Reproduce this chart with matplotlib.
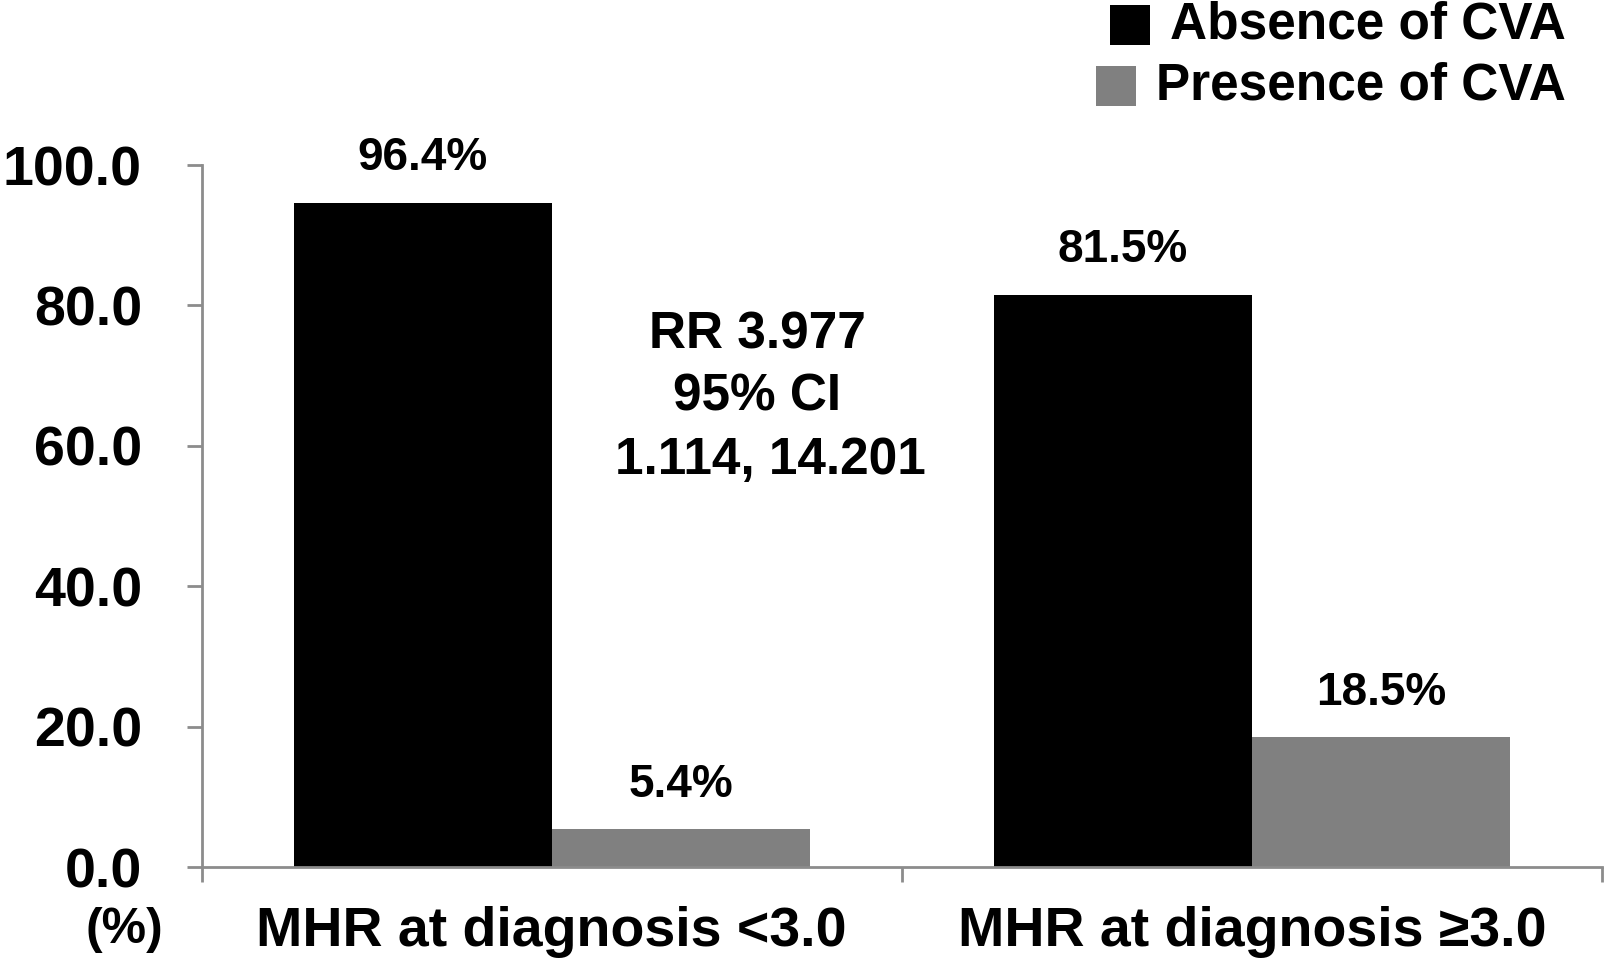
import matplotlib
matplotlib.use("Agg")
import matplotlib.pyplot as plt
from matplotlib.patches import Rectangle

plt.rcParams['font.family'] = ['Liberation Sans', 'DejaVu Sans']
plt.rcParams['font.weight'] = 'bold'

categories = ["MHR at diagnosis <3.0", "MHR at diagnosis \u22653.0"]
series_names = ["Absence of CVA", "Presence of CVA"]
absence = [94.6, 81.5]
presence = [5.4, 18.5]
absence_labels = ["96.4%", "81.5%"]
presence_labels = ["5.4%", "18.5%"]
yticks = [0, 20, 40, 60, 80, 100]
ytick_labels = ["0.0", "20.0", "40.0", "60.0", "80.0", "100.0"]
annotation_lines = ["RR 3.977", "95% CI", "1.114, 14.201"]

W, H = 1605, 969
fig = plt.figure(figsize=(W / 100, H / 100), dpi=100)
ax = fig.add_axes([201.6 / W, 1 - 867 / H, (1602 - 201.6) / W, (867 - 165) / H])

axis_color = "#8c8c8c"
bw = 0.3686
x = list(range(len(categories)))
b1 = ax.bar([i - bw / 2 for i in x], absence, width=bw, color="#000000", label=series_names[0])
b2 = ax.bar([i + bw / 2 for i in x], presence, width=bw, color="#808080", label=series_names[1])

for rect, lab in zip(b1, absence_labels):
    ax.annotate(lab, (rect.get_x() + rect.get_width() / 2, rect.get_height()),
                xytext=(0, 32), textcoords="offset points", ha="center", va="center",
                fontsize=33, fontweight="bold")
for rect, lab in zip(b2, presence_labels):
    ax.annotate(lab, (rect.get_x() + rect.get_width() / 2, rect.get_height()),
                xytext=(0, 32), textcoords="offset points", ha="center", va="center",
                fontsize=33, fontweight="bold")

ax.set_xlim(-0.5, 1.5)
ax.set_ylim(0, 100)
ax.set_yticks(yticks)
ax.set_yticklabels(ytick_labels, fontsize=40, fontweight="bold")
ax.set_xticks([-0.5, 0.5, 1.5])
ax.set_xticklabels([])
ax.set_xticks(x, minor=True)
ax.set_xticklabels(categories, minor=True, fontsize=40, fontweight="bold")
ax.tick_params(axis="x", which="major", length=11, width=2, color=axis_color, direction="out")
ax.tick_params(axis="x", which="minor", length=0, pad=28)
ax.tick_params(axis="y", length=11, width=2, color=axis_color, direction="out", pad=32)

for s in ["top", "right"]:
    ax.spines[s].set_visible(False)
for s in ["left", "bottom"]:
    ax.spines[s].set_color(axis_color)
    ax.spines[s].set_linewidth(2)

# RR annotation
for line, xc, yc in zip(annotation_lines, [757, 757, 770], [335, 397, 461]):
    fig.text(xc / W, 1 - yc / H, line, ha="center", va="center", fontsize=37, fontweight="bold")

fig.text(124 / W, 1 - 930 / H, "(%)", ha="center", va="center", fontsize=36, fontweight="bold")

# Legend (right-aligned entries)
fig.canvas.draw()
renderer = fig.canvas.get_renderer()
for name, col, yc in [(series_names[0], "#000000", 25), (series_names[1], "#808080", 86)]:
    t = fig.text(1566 / W, 1 - yc / H, name, ha="right", va="center", fontsize=37, fontweight="bold")
    bb = t.get_window_extent(renderer)
    left = bb.x0
    sq = 40
    fig.patches.append(Rectangle(((left - 20 - sq) / W, (H - yc - sq / 2) / H), sq / W, sq / H,
                                 transform=fig.transFigure, facecolor=col, edgecolor="none"))

fig.savefig("out.png", dpi=100)
